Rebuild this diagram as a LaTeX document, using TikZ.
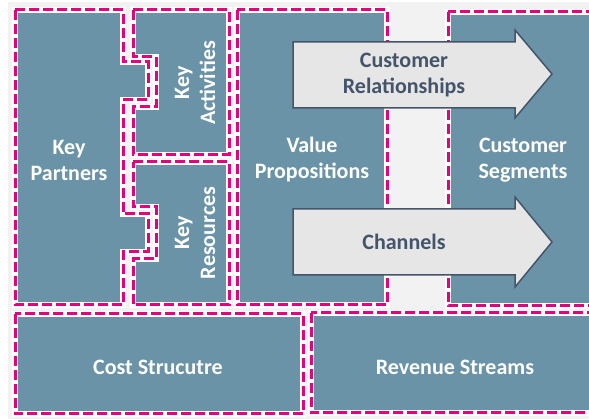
\documentclass[tikz,border=0pt]{standalone}
\usepackage{fontspec}
\setmainfont{Carlito}
\definecolor{bggray}{HTML}{F2F2F2}
\definecolor{boxfill}{HTML}{6A93A8}
\definecolor{bmcpink}{HTML}{E6007E}
\definecolor{arrowfill}{HTML}{E6E6E6}
\definecolor{slate}{HTML}{44546A}
\def\pKP{(15,10) -- (123,10) -- (123,62) -- (148,62) -- (148,100) -- (123,100) -- (123,214) -- (148,214) -- (148,252) -- (123,252) -- (123,305) -- (15,305) -- cycle}
\def\pKA{(133,10) -- (229,10) -- (229,155) -- (133,155) -- (133,107) -- (156,107) -- (156,57) -- (133,57) -- cycle}
\def\pKR{(133,162) -- (229,162) -- (229,305) -- (133,305) -- (133,259) -- (156,259) -- (156,207) -- (133,207) -- cycle}
\def\pVP{(237,10) rectangle (387,305)}
\def\pCS{(448,12) rectangle (620,306)}
\def\pCO{(15,314) rectangle (303,414)}
\def\pRV{(311,313) rectangle (620,413)}
\begin{document}
\begin{tikzpicture}[x=1pt,y=-1pt,
  wline/.style={draw=white,line width=6pt,line join=miter},
  pline/.style={draw=bmcpink,line width=3pt,dash pattern=on 10pt off 4pt,line join=miter},
  lbl/.style={text=white,font=\bfseries\fontsize{22}{26}\selectfont,align=center,inner sep=0pt},
  arr/.style={fill=arrowfill,draw=slate,line width=1.5pt,line join=miter},
  albl/.style={text=slate,font=\bfseries\fontsize{22}{26}\selectfont,align=center,inner sep=0pt}]
\useasboundingbox (0,0) rectangle (589,419);
\clip (0,0) rectangle (589,419);
\fill[bggray] (8,2) rectangle (589,419);
% fills
\fill[boxfill] \pKP;
\fill[boxfill] \pKA;
\fill[boxfill] \pKR;
\fill[boxfill] \pVP;
\fill[boxfill] \pCS;
\fill[boxfill] \pCO;
\fill[boxfill] \pRV;
% white outlines
\draw[wline] \pKP;
\draw[wline] \pKA;
\draw[wline] \pKR;
\draw[wline] \pVP;
\draw[wline] \pCS;
\draw[wline] \pCO;
\draw[wline] \pRV;
% pink dashed outlines
\draw[pline] \pKP;
\draw[pline] \pKA;
\draw[pline] \pKR;
\draw[pline] \pVP;
\draw[pline] \pCS;
\draw[pline] \pCO;
\draw[pline] \pRV;
% labels
\node[lbl] (kp) at (69,160) {Key\\Partners};
\node[lbl,rotate=90] (ka) at (195,83) {Key\\Activities};
\node[lbl,rotate=90] (kr) at (195,233) {Key\\Resources};
\node[lbl] (vp) at (312,160) {Value\\Propositions};
\node[lbl] (cs) at (523,160) {Customer\\Segments};
\node[lbl] (co) at (158,367) {Cost Strucutre};
\node[lbl] (rv) at (455,367) {Revenue Streams};
% arrows
\draw[arr] (293,42) -- (515,42) -- (515,30) -- (552,74) -- (515,118) -- (515,108) -- (293,108) -- cycle;
\node[albl] (cr) at (404,75) {Customer\\Relationships};
\draw[arr] (293,209) -- (515,209) -- (515,197) -- (552,242) -- (515,287) -- (515,275) -- (293,275) -- cycle;
\node[albl] (ch) at (404,242) {Channels};
\end{tikzpicture}
\end{document}
